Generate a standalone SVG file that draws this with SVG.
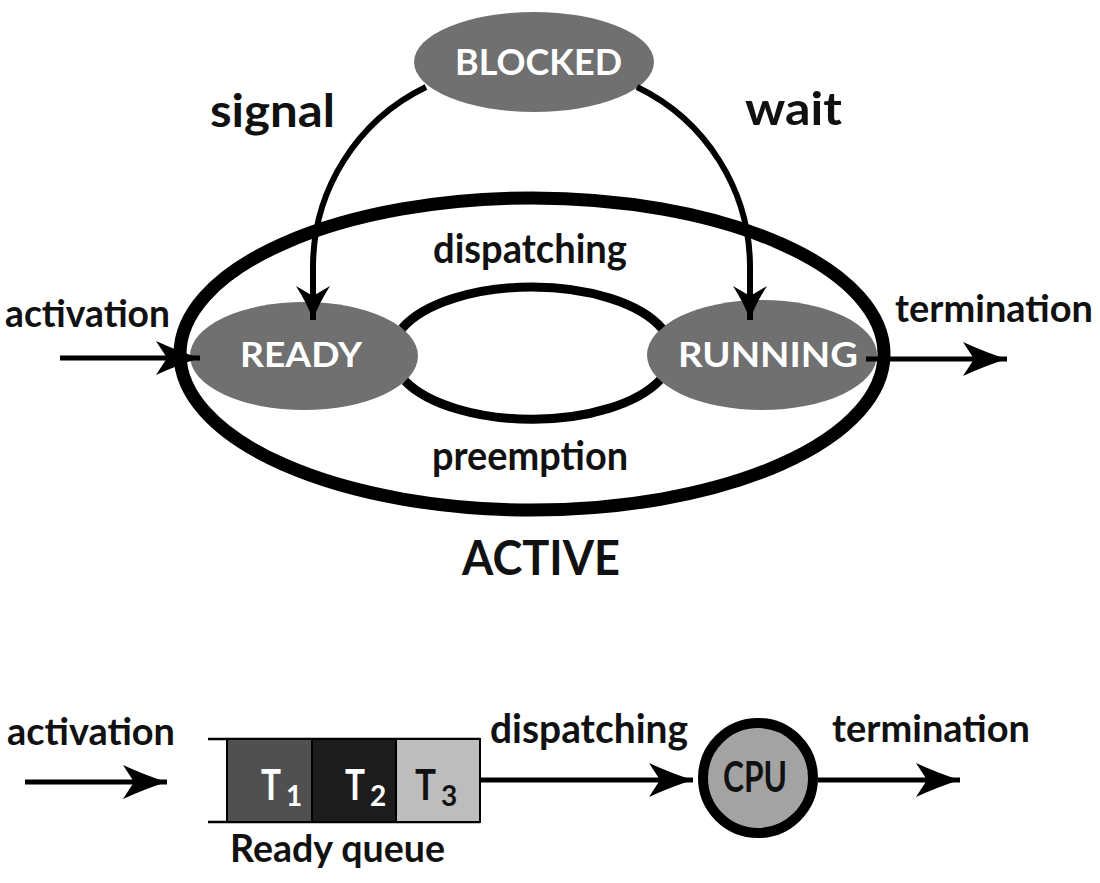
<svg xmlns="http://www.w3.org/2000/svg" width="1100" height="883" viewBox="0 0 1100 883">
<defs>
<style>
.lbl{font-family:Lato,"Open Sans","Liberation Sans",sans-serif;font-weight:bold;fill:#111;}
.wt{font-family:Lato,"Open Sans","Liberation Sans",sans-serif;font-weight:bold;fill:#fff;}
.node{fill:#707070;stroke:none;}
.ln{fill:none;stroke:#000;}
</style>
<marker id="ah" markerUnits="userSpaceOnUse" markerWidth="50" markerHeight="40" viewBox="-46 -20 48 40" refX="0" refY="0" orient="auto">
<path d="M0,0 Q-20,-6 -44,-17 L-33,0 L-44,17 Q-20,6 0,0 Z" fill="#000"/>
</marker>
<marker id="ahs" markerUnits="userSpaceOnUse" markerWidth="40" markerHeight="40" viewBox="-38 -18 40 36" refX="0" refY="0" orient="auto">
<path d="M0,0 Q-15,-5 -34,-17 L-24,0 L-34,17 Q-15,5 0,0 Z" fill="#000"/>
</marker>
</defs>
<rect width="1100" height="883" fill="#fff"/>

<g id="active">
<ellipse cx="532" cy="354" rx="352" ry="156" fill="none" stroke="#000" stroke-width="13"/>
<text class="lbl" x="462" y="575" font-size="48" textLength="158" lengthAdjust="spacingAndGlyphs">ACTIVE</text>
</g>

<g id="blocked">
<ellipse class="node" cx="534" cy="62" rx="120" ry="50"/>
<text class="wt" x="455" y="75" font-size="36" textLength="167" lengthAdjust="spacingAndGlyphs">BLOCKED</text>
</g>

<g id="ready">
<ellipse class="node" cx="304" cy="356" rx="114" ry="54"/>
<text class="wt" x="240" y="367" font-size="35" textLength="122" lengthAdjust="spacingAndGlyphs">READY</text>
</g>

<g id="running">
<ellipse class="node" cx="762" cy="355" rx="115" ry="55"/>
<text class="wt" x="678" y="367" font-size="35" textLength="180" lengthAdjust="spacingAndGlyphs">RUNNING</text>
</g>

<g id="ready-queue">
<line x1="208" y1="739" x2="480" y2="739" stroke="#000" stroke-width="2.5"/>
<line x1="208" y1="822" x2="480" y2="822" stroke="#000" stroke-width="2.5"/>
<rect x="227" y="739" width="85" height="83" fill="#505050" stroke="#000" stroke-width="2"/>
<rect x="312" y="739" width="84" height="83" fill="#1c1c1c" stroke="#000" stroke-width="2"/>
<rect x="396" y="739" width="84" height="83" fill="#bdbdbd" stroke="#000" stroke-width="2"/>
<text class="wt" x="261" y="800" font-size="42" textLength="20" lengthAdjust="spacingAndGlyphs">T</text>
<text class="wt" x="286" y="806" font-size="28">1</text>
<text class="wt" x="345" y="800" font-size="42" textLength="20" lengthAdjust="spacingAndGlyphs">T</text>
<text class="wt" x="370" y="806" font-size="28">2</text>
<text class="lbl" x="415" y="800" font-size="42" textLength="21" lengthAdjust="spacingAndGlyphs">T</text>
<text class="lbl" x="441" y="806" font-size="28">3</text>
<text class="lbl" x="230" y="862" font-size="38" textLength="215" lengthAdjust="spacingAndGlyphs">Ready queue</text>
</g>

<g id="cpu">
<circle cx="758" cy="778" r="55" fill="#a3a3a3" stroke="#000" stroke-width="10"/>
<text class="lbl" x="723" y="792" font-size="42" textLength="64" lengthAdjust="spacingAndGlyphs">CPU</text>
</g>

<g id="connectors">
<path class="ln" stroke-width="9" d="M402,328.5 A140,66 0 0 1 662,328.5"/>
<path class="ln" stroke-width="9" d="M405,381 A140,66 0 0 0 660,380"/>
<path class="ln" stroke-width="6" marker-end="url(#ahs)" d="M426,87 A200,200 0 0 0 313,267 L313,320"/>
<path class="ln" stroke-width="6" marker-end="url(#ahs)" d="M637,87 A200,200 0 0 1 750,267 L750,320"/>
<line class="ln" stroke-width="5" x1="60" y1="358" x2="200" y2="358" marker-end="url(#ah)"/>
<line class="ln" stroke-width="5" x1="866" y1="359" x2="1007" y2="359" marker-end="url(#ah)"/>
<line class="ln" stroke-width="5" x1="25" y1="782" x2="167" y2="782" marker-end="url(#ah)"/>
<line class="ln" stroke-width="5" x1="480" y1="780" x2="693" y2="780" marker-end="url(#ah)"/>
<line class="ln" stroke-width="5" x1="818" y1="780" x2="960" y2="780" marker-end="url(#ah)"/>
</g>

<g id="labels">
<text class="lbl" x="210" y="127" font-size="46" textLength="125" lengthAdjust="spacingAndGlyphs">signal</text>
<text class="lbl" x="745" y="125" font-size="46" textLength="97" lengthAdjust="spacingAndGlyphs">wait</text>
<text class="lbl" x="433" y="263" font-size="40" textLength="194" lengthAdjust="spacingAndGlyphs">dispatching</text>
<text class="lbl" x="432" y="470" font-size="40" textLength="196" lengthAdjust="spacingAndGlyphs">preemption</text>
<text class="lbl" x="5" y="327" font-size="38" textLength="165" lengthAdjust="spacingAndGlyphs">activation</text>
<text class="lbl" x="895" y="322" font-size="38" textLength="198" lengthAdjust="spacingAndGlyphs">termination</text>
<text class="lbl" x="7" y="745" font-size="38" textLength="168" lengthAdjust="spacingAndGlyphs">activation</text>
<text class="lbl" x="490" y="743" font-size="40" textLength="198" lengthAdjust="spacingAndGlyphs">dispatching</text>
<text class="lbl" x="832" y="742" font-size="38" textLength="198" lengthAdjust="spacingAndGlyphs">termination</text>
</g>
</svg>
